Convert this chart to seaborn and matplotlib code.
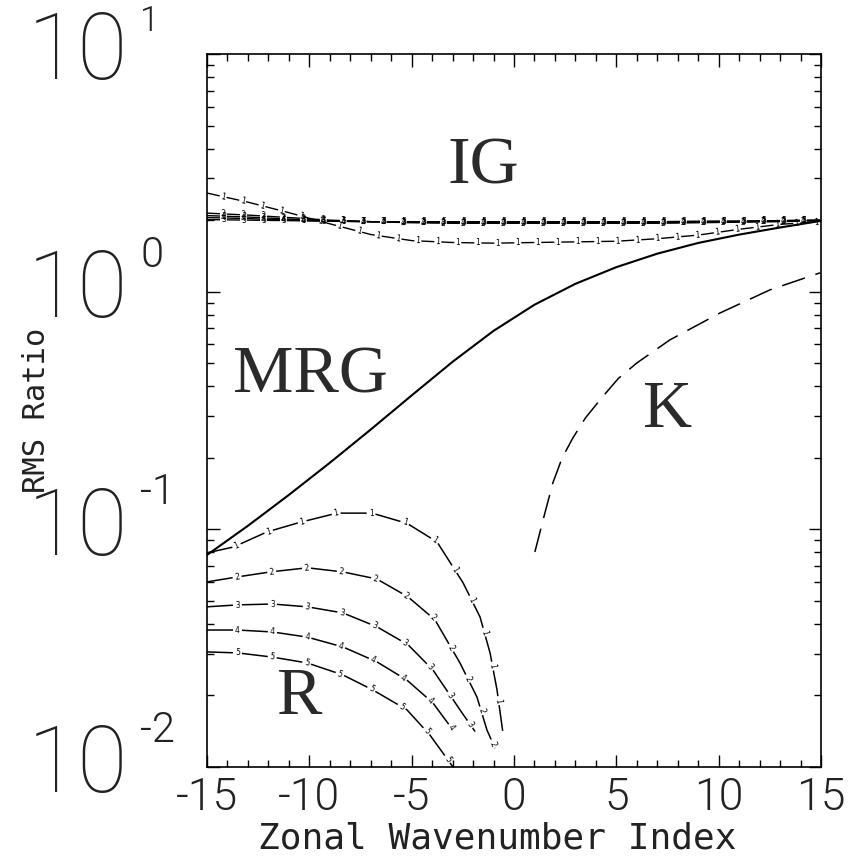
import numpy as np
import matplotlib
matplotlib.use("Agg")
import matplotlib.pyplot as plt
import matplotlib.font_manager as fm
import matplotlib.transforms as mtransforms
import seaborn as sns

# ---------------- data ----------------
ig_x = [-15, -13, -11, -9, -7, -5, -3, -1, 1, 3, 5, 7, 9, 11, 13, 15]
ig1 = [2.60, 2.38, 2.15, 1.93, 1.74, 1.64, 1.61, 1.60, 1.61, 1.62, 1.63, 1.67, 1.73, 1.83, 1.92, 1.97]
ig2 = [2.14, 2.10, 2.05, 2.00, 1.97, 1.95, 1.94, 1.94, 1.94, 1.94, 1.94, 1.94, 1.95, 1.96, 1.97, 1.99]
ig3 = [2.09, 2.06, 2.02, 1.99, 1.97, 1.96, 1.95, 1.95, 1.95, 1.95, 1.95, 1.95, 1.96, 1.97, 1.98, 1.99]
ig4 = [2.05, 2.03, 2.00, 1.98, 1.97, 1.96, 1.96, 1.96, 1.96, 1.96, 1.96, 1.96, 1.97, 1.98, 1.99, 2.00]
ig5 = [2.01, 2.00, 1.99, 1.98, 1.97, 1.97, 1.97, 1.97, 1.97, 1.97, 1.97, 1.97, 1.98, 1.98, 1.99, 2.00]

mrg_x = [-15, -13, -11, -9, -7, -5, -3, -1, 1, 3, 5, 7, 9, 11, 13, 15]
mrg_y = [0.078, 0.1035, 0.1396, 0.1905, 0.263, 0.366, 0.507, 0.684, 0.881, 1.079, 1.268,
         1.445, 1.603, 1.738, 1.862, 1.986]

k_x = [1.02, 1.45, 1.9, 2.35, 2.88, 3.5, 4.35, 5.1, 6.0, 7.62, 10.06, 12.5, 14.95]
k_y = [0.0803, 0.112, 0.157, 0.1995, 0.2427, 0.295, 0.363, 0.4315, 0.501, 0.627, 0.813, 1.017, 1.2]

r1_x = [-15, -13.7, -12.07, -10.46, -8.65, -6.94, -5.23, -3.76, -2.49, -1.66, -1.17, -0.83, -0.54]
r1_y = [0.0796, 0.0843, 0.0975, 0.107, 0.117, 0.117, 0.106, 0.0885, 0.0596, 0.0428, 0.0302, 0.0211, 0.0139]
r2_x = [-15, -13.5, -11.9, -10.1, -8.36, -6.7, -5.18, -3.86, -2.64, -1.81, -1.32, -0.93]
r2_y = [0.0601, 0.0631, 0.0662, 0.0689, 0.0662, 0.0618, 0.052, 0.0416, 0.0274, 0.0197, 0.0143, 0.012]
r3_x = [-15, -13.5, -11.8, -10.1, -8.36, -6.7, -5.18, -3.96, -2.54, -1.9]
r3_y = [0.0472, 0.0481, 0.0485, 0.0472, 0.0445, 0.0389, 0.0327, 0.0256, 0.0169, 0.0141]
r4_x = [-15, -13.5, -11.8, -10.1, -8.36, -6.7, -5.23, -3.96, -2.98]
r4_y = [0.0377, 0.0377, 0.0370, 0.0352, 0.032, 0.0277, 0.0232, 0.0186, 0.0143]
r5_x = [-15, -13.5, -11.8, -10.1, -8.36, -6.9, -5.23, -4.1, -2.98]
r5_y = [0.0305, 0.0302, 0.029, 0.0274, 0.0244, 0.0211, 0.0174, 0.0136, 0.0100]

x_ticks = [-15, -10, -5, 0, 5, 10, 15]
x_tick_labels = ["-15", "-10", "-5", "0", "5", "10", "15"]
y_decades = [-2, -1, 0, 1]
y_exp_labels = ["-2", "-1", "0", "1"]

regions = ["IG", "MRG", "K", "R"]
region_x = [-1.5, -9.95, 7.5, -10.5]
region_y = [3.35, 0.441, 0.315, 0.0197]

# ---------------- style ----------------
sns.set_theme(style="white")
plt.rcParams["font.family"] = ["DejaVu Sans"]
plt.rcParams["lines.scale_dashes"] = False
plt.rcParams["axes.unicode_minus"] = False

DPI = 100


def _w(f):
    try:
        return int(f.weight)
    except Exception:
        return {"ultralight": 200, "light": 300, "normal": 400, "regular": 400}.get(str(f.weight), 400)


def weighted(families, size, target):
    for fam in families:
        cands = [f for f in fm.fontManager.ttflist if f.name == fam and f.style == "normal"]
        if not cands:
            continue
        if min(_w(f) for f in cands) > 300:
            continue
        best = min(cands, key=lambda f: (abs(_w(f) - target), _w(f)))
        return fm.FontProperties(fname=best.fname, size=size)
    return fm.FontProperties(family="DejaVu Sans", size=size)


thin_fams = ["Roboto", "Lato", "Open Sans", "Inter", "Noto Sans", "DejaVu Sans"]
fp_xt = weighted(thin_fams, 32, 300)
fp_10 = weighted(thin_fams, 66, 100)
fp_exp = weighted(thin_fams, 30, 300)
fp_exp_top = weighted(thin_fams, 25, 300)

fig = plt.figure(figsize=(852 / DPI, 857 / DPI), dpi=DPI)
fig.patch.set_facecolor("white")
ax = fig.add_axes([207 / 852, 1 - 767 / 857, 614 / 852, 713 / 857])
ax.set_yscale("log")


def px2pt(p):
    return p * 72.0 / DPI


lines = []  # (x, y, label, on_px, off_px)


def draw(x, y, lw, on_px=None, off_px=None, label=None):
    ls = "-" if on_px is None else (0, (px2pt(on_px), px2pt(off_px)))
    sns.lineplot(x=x, y=y, ax=ax, color="black", linewidth=lw, linestyle=ls,
                 estimator=None, sort=False)
    if label is not None:
        lines.append((x, y, label, on_px, off_px))


# IG family
for ys, lab in zip([ig5, ig4, ig3, ig2, ig1], ["5", "4", "3", "2", "1"]):
    draw(ig_x, ys, 1.0, 13, 7, lab)
# MRG
draw(mrg_x, mrg_y, 1.5)
# Kelvin
draw(k_x, k_y, 1.1, 24, 11)
# Rossby family
for xs, ys, lab in zip([r1_x, r2_x, r3_x, r4_x, r5_x], [r1_y, r2_y, r3_y, r4_y, r5_y],
                       ["1", "2", "3", "4", "5"]):
    draw(xs, ys, 1.1, 26, 9, lab)

ax.set_xlim(-15, 15)
ax.set_ylim(0.01, 10)

# inline contour-style labels placed in the dash gaps
inv = ax.transData.inverted()
for x, y, lab, on_px, off_px in lines:
    pts = ax.transData.transform(np.column_stack([x, y]))
    seg = np.hypot(np.diff(pts[:, 0]), np.diff(pts[:, 1]))
    cum = np.concatenate([[0], np.cumsum(seg)])
    period = on_px + off_px
    s = on_px + off_px / 2.0
    while s < cum[-1]:
        i = min(max(np.searchsorted(cum, s) - 1, 0), len(seg) - 1)
        t = (s - cum[i]) / seg[i]
        p = pts[i] + t * (pts[i + 1] - pts[i])
        ang = np.degrees(np.arctan2(pts[i + 1, 1] - pts[i, 1], pts[i + 1, 0] - pts[i, 0]))
        if ang > 90:
            ang -= 180
        if ang < -90:
            ang += 180
        xd, yd = inv.transform(p)
        if -15 <= xd <= 15 and 0.0101 <= yd <= 10:
            ax.text(xd, yd, lab, rotation=ang, rotation_mode="anchor", ha="center",
                    va="center", fontsize=5.5, color="black", clip_on=True)
        s += period

# region labels
for name, rx, ry in zip(regions, region_x, region_y):
    ax.text(rx, ry, name, ha="center", va="center", fontsize=49,
            family=["Liberation Serif", "DejaVu Serif"], color="#2a2a2a")

# spines / ticks
for sp in ax.spines.values():
    sp.set_visible(True)
    sp.set_color("black")
    sp.set_linewidth(1.2)

ax.set_xticks(x_ticks)
ax.set_xticklabels(x_tick_labels)
ax.xaxis.set_minor_locator(matplotlib.ticker.MultipleLocator(1))
ax.set_yticks([10.0 ** d for d in y_decades])
ax.set_yticklabels(["10"] * len(y_decades))
ax.yaxis.set_minor_locator(matplotlib.ticker.LogLocator(base=10, subs=np.arange(2, 10)))
ax.yaxis.set_minor_formatter(matplotlib.ticker.NullFormatter())

ax.tick_params(which="both", direction="in", top=True, right=True, bottom=True, left=True,
               color="black", width=1.0)
ax.tick_params(which="major", length=9)
ax.tick_params(which="minor", length=5)
ax.tick_params(axis="x", which="major", pad=7)
ax.tick_params(axis="y", which="major", pad=px2pt(79))

for t in ax.get_xticklabels():
    t.set_fontproperties(fp_xt)
    t.set_color("#222222")
for t in ax.get_yticklabels():
    t.set_fontproperties(fp_10)
    t.set_color("#222222")
    t.set_verticalalignment("center")

off = mtransforms.ScaledTranslation(0, 16 / DPI, fig.dpi_scale_trans)
trans = ax.get_yaxis_transform() + off
for d, lab in zip(y_decades, y_exp_labels):
    fp = fp_exp_top if d == 1 else fp_exp
    ax.text(-0.109, 10.0 ** d, lab, transform=trans, ha="left", va="bottom",
            fontproperties=fp, color="#222222", clip_on=False)

ax.set_xlabel("Zonal Wavenumber Index", family=["DejaVu Sans Mono"], fontsize=26, color="#222222")
ax.xaxis.set_label_coords(0.472, -0.077)
ax.xaxis.label.set_verticalalignment("top")
ax.set_ylabel("RMS Ratio", family=["DejaVu Sans Mono"], fontsize=22, color="#222222")
ax.yaxis.set_label_coords(-0.278, 0.5)
ax.yaxis.label.set_verticalalignment("center")

fig.savefig("out.png", dpi=DPI)
